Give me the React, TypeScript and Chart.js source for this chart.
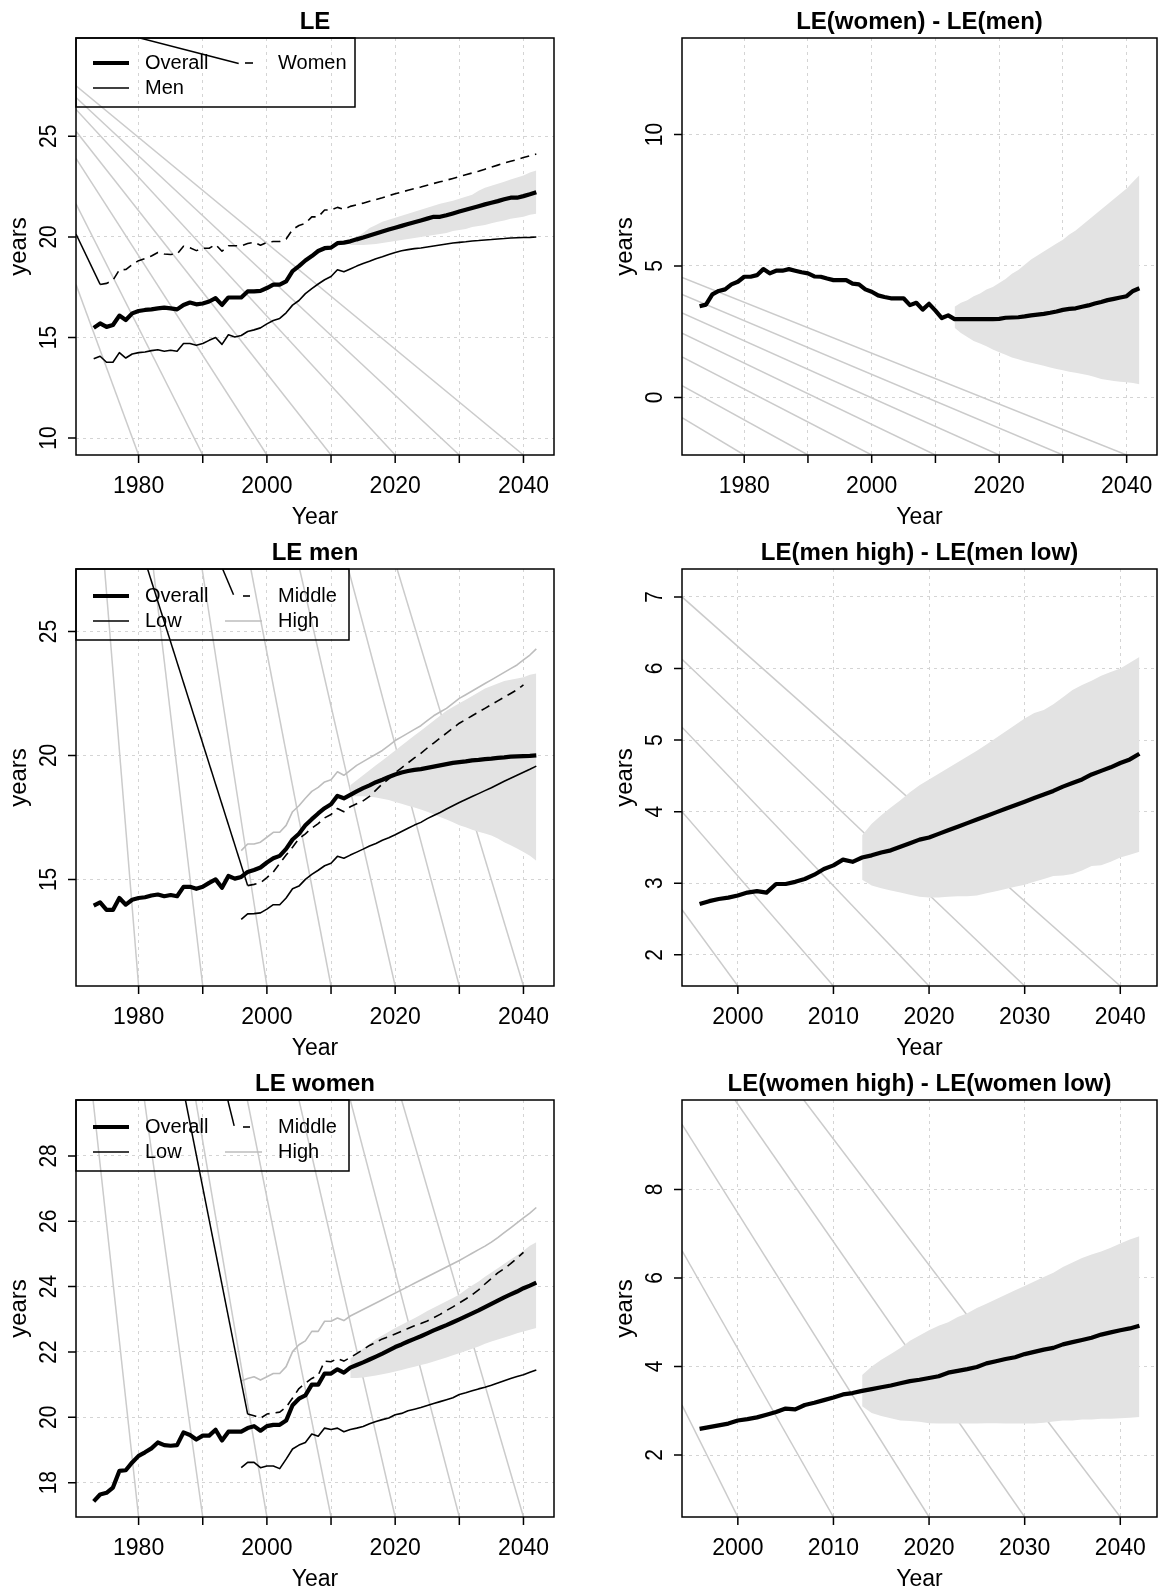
import React, { useEffect, useRef } from 'react';
import { Chart, registerables } from 'chart.js';

Chart.register(...registerables);

const FONT = '"Liberation Sans", Arial, Helvetica, sans-serif';
const PANEL_W = 581;
const PANEL_H = 531;

// ---------- Data ----------
const HIST_START = 1973;
const SUB_START = 1996;
const MID_START = 1997;
const FC_START = 2013;

const LE_OVERALL = [
  15.48, 15.7, 15.53, 15.62, 16.09, 15.87, 16.2, 16.32, 16.37, 16.4,
  16.45, 16.49, 16.45, 16.4, 16.62, 16.74, 16.65, 16.69, 16.79, 16.96,
  16.62, 16.99, 16.99, 16.99, 17.29, 17.29, 17.32, 17.46, 17.63, 17.63,
  17.79, 18.3, 18.55, 18.83, 19.05, 19.3, 19.44, 19.47, 19.69, 19.72,
  19.78, 19.88, 19.97, 20.07, 20.17, 20.27, 20.37, 20.46, 20.55, 20.64,
  20.73, 20.82, 20.91, 21.0, 21.0, 21.08, 21.17, 21.26, 21.35, 21.44,
  21.53, 21.62, 21.7, 21.78, 21.87, 21.95, 21.95, 22.03, 22.12, 22.22,
];
const LE_BAND_UP = [
  19.85, 20.0, 20.2, 20.45, 20.6, 20.75, 20.85, 20.95, 21.05, 21.15,
  21.25, 21.35, 21.45, 21.55, 21.65, 21.72, 21.8, 21.9, 22.0, 22.1,
  22.3, 22.45, 22.55, 22.65, 22.75, 22.85, 22.95, 23.05, 23.2, 23.3,
];
const LE_BAND_LO = [
  19.6, 19.6, 19.6, 19.62, 19.65, 19.7, 19.75, 19.8, 19.85, 19.9,
  19.95, 20.0, 20.05, 20.1, 20.15, 20.2, 20.3, 20.35, 20.4, 20.5,
  20.55, 20.6, 20.68, 20.75, 20.82, 20.9, 20.95, 21.0, 21.1, 21.15,
];

const MEN_OVERALL = [
  13.94, 14.07, 13.77, 13.77, 14.25, 13.98, 14.18, 14.25, 14.28, 14.35,
  14.39, 14.32, 14.37, 14.32, 14.7, 14.7, 14.62, 14.7, 14.86, 15.0,
  14.66, 15.14, 15.03, 15.1, 15.3, 15.38, 15.48, 15.68, 15.85, 15.95,
  16.23, 16.61, 16.84, 17.18, 17.43, 17.66, 17.87, 18.03, 18.37, 18.27,
  18.41, 18.55, 18.68, 18.79, 18.92, 19.02, 19.13, 19.23, 19.31, 19.37,
  19.42, 19.45, 19.5, 19.55, 19.6, 19.65, 19.7, 19.73, 19.76, 19.8,
  19.82, 19.85, 19.87, 19.9, 19.92, 19.95, 19.96, 19.97, 19.98, 20.0,
];
const MEN_LOW = [
  13.39, 13.61, 13.62, 13.65, 13.8, 13.98, 13.98, 14.25, 14.62, 14.73,
  15.0, 15.2, 15.37, 15.55, 15.65, 15.93, 15.85,
  15.98, 16.1, 16.22, 16.35, 16.45, 16.58, 16.68, 16.8, 16.93, 17.06,
  17.19, 17.3, 17.45, 17.58, 17.7, 17.84, 17.97, 18.1, 18.22, 18.34,
  18.46, 18.58, 18.7, 18.83, 18.96, 19.08, 19.2, 19.32, 19.44, 19.57,
];
const MEN_MIDDLE = [
  14.75, 14.8, 14.86, 15.07, 15.3, 15.65, 15.98, 16.3, 16.64, 16.84,
  17.07, 17.25, 17.48, 17.62, 17.86, 17.73,
  17.93, 18.05, 18.17, 18.35, 18.6, 18.85, 19.05, 19.3, 19.5, 19.7,
  19.9, 20.08, 20.3, 20.5, 20.7, 20.9, 21.1, 21.3, 21.45, 21.6,
  21.75, 21.9, 22.05, 22.2, 22.35, 22.5, 22.65, 22.85,
];
const MEN_HIGH = [
  16.16, 16.43, 16.43, 16.5, 16.7, 16.9, 16.9, 17.18, 17.73, 17.97,
  18.27, 18.55, 18.71, 18.93, 19.02, 19.34, 19.2,
  19.4, 19.6, 19.75, 19.9, 20.05, 20.2, 20.4, 20.6, 20.75, 20.9,
  21.05, 21.2, 21.4, 21.6, 21.75, 21.9, 22.1, 22.3, 22.45, 22.6,
  22.75, 22.9, 23.05, 23.2, 23.35, 23.5, 23.65, 23.85, 24.05, 24.3,
];
const MEN_BAND_UP = [
  18.8, 19.0, 19.2, 19.4, 19.6, 19.8, 20.0, 20.2, 20.4, 20.6,
  20.8, 21.0, 21.2, 21.4, 21.6, 21.8, 21.95, 22.1, 22.25, 22.4,
  22.55, 22.7, 22.8, 22.9, 23.0, 23.05, 23.1, 23.15, 23.25, 23.3,
];
const MEN_BAND_LO = [
  18.35, 18.35, 18.35, 18.33, 18.3, 18.25, 18.2, 18.12, 18.05, 17.97,
  17.9, 17.82, 17.73, 17.63, 17.52, 17.42, 17.3, 17.18, 17.1, 17.0,
  16.92, 16.85, 16.77, 16.65, 16.5, 16.38, 16.25, 16.1, 15.95, 15.75,
];

const WOMEN_OVERALL = [
  17.43, 17.64, 17.69, 17.85, 18.36, 18.38, 18.62, 18.82, 18.93, 19.05,
  19.23, 19.15, 19.13, 19.15, 19.54, 19.46, 19.32, 19.44, 19.44, 19.62,
  19.29, 19.56, 19.56, 19.56, 19.67, 19.73, 19.59, 19.73, 19.77, 19.77,
  19.9, 20.37, 20.57, 20.67, 21.0, 21.0, 21.34, 21.34, 21.47, 21.37,
  21.52, 21.6, 21.68, 21.77, 21.86, 21.95, 22.05, 22.15, 22.23, 22.32,
  22.4, 22.48, 22.57, 22.66, 22.74, 22.82, 22.91, 23.0, 23.09, 23.18,
  23.27, 23.37, 23.47, 23.57, 23.67, 23.76, 23.85, 23.95, 24.03, 24.12,
];
const WOMEN_LOW = [
  18.46, 18.62, 18.62, 18.46, 18.51, 18.51, 18.43, 18.72, 19.03, 19.15,
  19.23, 19.49, 19.42, 19.67, 19.63, 19.67, 19.56,
  19.63, 19.67, 19.72, 19.8, 19.87, 19.93, 19.98, 20.08, 20.12, 20.2,
  20.25, 20.3, 20.36, 20.42, 20.48, 20.54, 20.6, 20.7, 20.75, 20.81,
  20.87, 20.92, 20.98, 21.05, 21.12, 21.19, 21.25, 21.3, 21.38, 21.45,
];
const WOMEN_MIDDLE = [
  20.1, 20.05, 19.97, 20.1, 20.13, 20.16, 20.31, 20.59, 20.88, 21.04,
  21.19, 21.29, 21.72, 21.7, 21.8, 21.72,
  21.83, 21.95, 22.07, 22.2, 22.3, 22.4, 22.47, 22.55, 22.63, 22.72,
  22.8, 22.87, 22.95, 23.05, 23.15, 23.27, 23.38, 23.5, 23.62, 23.75,
  23.9, 24.08, 24.25, 24.42, 24.55, 24.7, 24.87, 25.05,
];
const WOMEN_HIGH = [
  21.11, 21.19, 21.24, 21.14, 21.24, 21.34, 21.34, 21.55, 22.01, 22.22,
  22.34, 22.63, 22.63, 22.94, 22.94, 23.04, 22.96,
  23.1, 23.2, 23.3, 23.4, 23.5, 23.6, 23.7, 23.8, 23.9, 24.0,
  24.1, 24.2, 24.3, 24.4, 24.5, 24.6, 24.7, 24.8, 24.91, 25.02,
  25.13, 25.24, 25.36, 25.5, 25.65, 25.8, 25.95, 26.1, 26.25, 26.42,
];
const WOMEN_BAND_UP = [
  21.8, 21.95, 22.1, 22.25, 22.4, 22.5, 22.62, 22.73, 22.83, 22.93,
  23.03, 23.14, 23.25, 23.35, 23.45, 23.55, 23.65, 23.76, 23.9, 24.03,
  24.16, 24.3, 24.43, 24.56, 24.7, 24.83, 24.96, 25.1, 25.25, 25.36,
];
const WOMEN_BAND_LO = [
  21.2, 21.2, 21.22, 21.25, 21.28, 21.32, 21.36, 21.4, 21.45, 21.5,
  21.55, 21.6, 21.65, 21.71, 21.77, 21.83, 21.9, 21.96, 22.03, 22.1,
  22.17, 22.25, 22.32, 22.38, 22.44, 22.5, 22.57, 22.63, 22.68, 22.73,
];

const SEX_GAP = [
  3.47, 3.53, 3.92, 4.05, 4.11, 4.3, 4.4, 4.59, 4.59, 4.65,
  4.88, 4.72, 4.82, 4.82, 4.88, 4.82, 4.76, 4.72, 4.6, 4.59,
  4.52, 4.46, 4.46, 4.46, 4.33, 4.3, 4.11, 4.02, 3.88, 3.82,
  3.77, 3.77, 3.77, 3.51, 3.6, 3.34, 3.56, 3.3, 3.02, 3.12,
  2.98, 2.98, 2.98, 2.98, 2.98, 2.98, 2.98, 2.99, 3.03, 3.04,
  3.05, 3.08, 3.12, 3.15, 3.18, 3.22, 3.27, 3.33, 3.37, 3.39,
  3.45, 3.5, 3.57, 3.63, 3.7, 3.75, 3.8, 3.85, 4.05, 4.15,
];
const SEX_GAP_UP = [
  3.45, 3.6, 3.7, 3.85, 3.95, 4.1, 4.2, 4.35, 4.5, 4.7,
  4.85, 5.05, 5.25, 5.4, 5.55, 5.7, 5.85, 6.0, 6.2, 6.35,
  6.55, 6.75, 6.95, 7.15, 7.35, 7.55, 7.75, 7.95, 8.2, 8.45,
];
const SEX_GAP_LO = [
  2.65, 2.45, 2.3, 2.15, 2.05, 1.95, 1.82, 1.72, 1.62, 1.52,
  1.45, 1.38, 1.32, 1.26, 1.2, 1.14, 1.08, 1.03, 0.98, 0.94,
  0.89, 0.84, 0.78, 0.7, 0.66, 0.62, 0.6, 0.58, 0.55, 0.5,
];

const MEN_GAP = [
  2.71, 2.75, 2.78, 2.8, 2.83, 2.87, 2.89, 2.87, 2.99, 2.99,
  3.02, 3.06, 3.12, 3.2, 3.25, 3.33, 3.3,
  3.36, 3.39, 3.43, 3.46, 3.51, 3.56, 3.61, 3.64, 3.69, 3.74,
  3.79, 3.84, 3.89, 3.94, 3.99, 4.04, 4.09, 4.14, 4.19, 4.24,
  4.29, 4.35, 4.4, 4.45, 4.52, 4.57, 4.62, 4.68, 4.73, 4.81,
];
const MEN_GAP_UP = [
  3.67, 3.83, 3.95, 4.06, 4.16, 4.27, 4.37, 4.45, 4.53, 4.61,
  4.69, 4.77, 4.85, 4.94, 5.03, 5.12, 5.21, 5.3, 5.38, 5.42,
  5.5, 5.6, 5.7, 5.77, 5.83, 5.9, 5.95, 6.0, 6.08, 6.16,
];
const MEN_GAP_LO = [
  3.05, 2.97, 2.93, 2.9, 2.87, 2.84, 2.81, 2.8, 2.8, 2.81,
  2.82, 2.82, 2.83, 2.86, 2.89, 2.92, 2.95, 2.98, 3.02, 3.06,
  3.1, 3.11, 3.13, 3.18, 3.24, 3.25, 3.3, 3.36, 3.4, 3.44,
];

const WOMEN_GAP = [
  2.59, 2.63, 2.67, 2.71, 2.78, 2.81, 2.85, 2.91, 2.97, 3.05,
  3.03, 3.13, 3.18, 3.24, 3.3, 3.37, 3.4,
  3.45, 3.49, 3.53, 3.57, 3.62, 3.67, 3.7, 3.74, 3.78, 3.86,
  3.9, 3.94, 3.99, 4.07, 4.12, 4.17, 4.21, 4.28, 4.33, 4.38,
  4.42, 4.5, 4.55, 4.6, 4.65, 4.72, 4.77, 4.82, 4.86, 4.92,
];
const WOMEN_GAP_UP = [
  3.81, 4.0, 4.15, 4.28, 4.42, 4.58, 4.7, 4.82, 4.92, 5.0,
  5.12, 5.2, 5.32, 5.42, 5.52, 5.62, 5.72, 5.82, 5.92, 6.02,
  6.12, 6.25, 6.35, 6.45, 6.53, 6.6, 6.68, 6.78, 6.87, 6.94,
];
const WOMEN_GAP_LO = [
  3.1, 2.95, 2.88, 2.83, 2.78, 2.77, 2.75, 2.72, 2.71, 2.71,
  2.71, 2.71, 2.71, 2.72, 2.72, 2.71, 2.71, 2.71, 2.71, 2.73,
  2.76, 2.78, 2.78, 2.8, 2.8, 2.82, 2.82, 2.83, 2.84, 2.86,
];

// Axis ticks
const X_TICKS_LONG = [1980, 1990, 2000, 2010, 2020, 2030, 2040];
const X_LABELS_LONG = [1980, 2000, 2020, 2040];
const X_TICKS_SHORT = [2000, 2010, 2020, 2030, 2040];
const Y_TICKS_LE = [10, 15, 20, 25];
const Y_TICKS_SEXGAP = [0, 5, 10];
const Y_TICKS_MEN = [15, 20, 25];
const Y_TICKS_MENGAP = [2, 3, 4, 5, 6, 7];
const Y_TICKS_WOMEN = [18, 20, 22, 24, 26, 28];
const Y_TICKS_WOMENGAP = [2, 4, 6, 8];

// Grey guide lines (start point, end at bottom tick)
const LE_GUIDE_FROM_Y = [17.63, 21.65, 23.91, 25.25, 26.34, 26.93, 27.51];
const SEXGAP_GUIDE_FROM_Y = [-0.77, 0.45, 1.54, 2.44, 3.21, 3.92, 4.56];
const MEN_GUIDE_FROM_X = [1974.7, 1982.3, 1989.9, 1997.5, 2005.1, 2012.7, 2020.3];
const MENGAP_GUIDE_FROM_Y = [2.63, 4.0, 5.18, 6.13, 7.0];
const WOMEN_GUIDE_FROM_X = [1972.9, 1980.9, 1988.9, 1996.95, 2005.0, 2013.0, 2021.0];
const WOMENGAP_GUIDE_FROM = [
  [1994.16, 3.13], [1994.16, 6.62], [1994.16, 9.47], [1999.7, 10.02], [2006.9, 10.02],
];

type Seg = { x0: number; y0: number; x1: number; y1: number };
type Series = { start: number; values: number[]; color: string; width: number; dash?: number[]; order: number };
type LegendItem = { label: string; row: number; x0: number; x1: number; tx: number; color: string; width: number };
type Legend = { right: number; bottom: number; rows: number[]; items: LegendItem[] };
type PanelCfg = {
  title: string;
  row: number;
  col: number;
  box: [number, number, number, number];
  xMin: number; xMax: number; yMin: number; yMax: number;
  xTicks: number[]; xLabels: number[]; yTicks: number[];
  band?: { lower: number[]; upper: number[] };
  series: Series[];
  guides: Seg[];
  artifacts: Seg[];
  legend?: Legend;
};

const LEFT_BOX: [number, number, number, number] = [76, 38, 554, 455];
const RIGHT_BOX: [number, number, number, number] = [101, 38, 576, 455];
const X_LONG = [1970.24, 2044.76];
const X_SHORT = [1994.16, 2043.84];

const BLACK = '#000000';
const GREY_HIGH = '#bdbdbd';

function toSegTick(from: [number, number][], ticks: number[], yMin: number): Seg[] {
  return from.map((f, i) => ({ x0: f[0], y0: f[1], x1: ticks[i], y1: yMin }));
}

const LEGEND_SUB: LegendItem[] = [
  { label: 'Overall', row: 0, x0: 93, x1: 129, tx: 145, color: BLACK, width: 4.2 },
  { label: 'Low', row: 1, x0: 93, x1: 129, tx: 145, color: BLACK, width: 1.6 },
  { label: 'Middle', row: 0, x0: 243, x1: 250, tx: 278, color: BLACK, width: 1.6 },
  { label: 'High', row: 1, x0: 225, x1: 262, tx: 278, color: GREY_HIGH, width: 1.6 },
];

const PANELS: PanelCfg[] = [
  {
    title: 'LE', row: 0, col: 0, box: LEFT_BOX,
    xMin: X_LONG[0], xMax: X_LONG[1], yMin: 9.16, yMax: 29.89,
    xTicks: X_TICKS_LONG, xLabels: X_LABELS_LONG, yTicks: Y_TICKS_LE,
    band: { lower: LE_BAND_LO, upper: LE_BAND_UP },
    series: [
      { start: HIST_START + 1, values: WOMEN_OVERALL.slice(1), color: BLACK, width: 1.6, dash: [9, 6], order: 12 },
      { start: HIST_START, values: MEN_OVERALL, color: BLACK, width: 1.6, order: 11 },
      { start: HIST_START, values: LE_OVERALL, color: BLACK, width: 4.2, order: 10 },
    ],
    guides: toSegTick(LE_GUIDE_FROM_Y.map((y) => [X_LONG[0], y] as [number, number]), X_TICKS_LONG, 9.16),
    artifacts: [
      { x0: X_LONG[0], y0: 20.14, x1: 1974, y1: 17.64 },
      { x0: 1980.2, y0: 29.89, x1: 1995.6, y1: 28.62 },
    ],
    legend: {
      right: 355, bottom: 107, rows: [63, 88],
      items: [
        { label: 'Overall', row: 0, x0: 93, x1: 129, tx: 145, color: BLACK, width: 4.2 },
        { label: 'Men', row: 1, x0: 93, x1: 129, tx: 145, color: BLACK, width: 1.6 },
        { label: 'Women', row: 0, x0: 245, x1: 253, tx: 278, color: BLACK, width: 1.6 },
      ],
    },
  },
  {
    title: 'LE(women) - LE(men)', row: 0, col: 1, box: RIGHT_BOX,
    xMin: X_LONG[0], xMax: X_LONG[1], yMin: -2.19, yMax: 13.67,
    xTicks: X_TICKS_LONG, xLabels: X_LABELS_LONG, yTicks: Y_TICKS_SEXGAP,
    band: { lower: SEX_GAP_LO, upper: SEX_GAP_UP },
    series: [{ start: HIST_START, values: SEX_GAP, color: BLACK, width: 4.2, order: 10 }],
    guides: toSegTick(SEXGAP_GUIDE_FROM_Y.map((y) => [X_LONG[0], y] as [number, number]), X_TICKS_LONG, -2.19),
    artifacts: [],
  },
  {
    title: 'LE men', row: 1, col: 0, box: LEFT_BOX,
    xMin: X_LONG[0], xMax: X_LONG[1], yMin: 10.7, yMax: 27.52,
    xTicks: X_TICKS_LONG, xLabels: X_LABELS_LONG, yTicks: Y_TICKS_MEN,
    band: { lower: MEN_BAND_LO, upper: MEN_BAND_UP },
    series: [
      { start: SUB_START, values: MEN_HIGH, color: GREY_HIGH, width: 1.6, order: 13 },
      { start: MID_START, values: MEN_MIDDLE, color: BLACK, width: 1.6, dash: [9, 6], order: 12 },
      { start: SUB_START, values: MEN_LOW, color: BLACK, width: 1.6, order: 11 },
      { start: HIST_START, values: MEN_OVERALL, color: BLACK, width: 4.2, order: 10 },
    ],
    guides: toSegTick(MEN_GUIDE_FROM_X.map((x) => [x, 27.52] as [number, number]), X_TICKS_LONG, 10.7),
    artifacts: [
      { x0: 1981.4, y0: 27.52, x1: 1997, y1: 14.75 },
      { x0: 1993.1, y0: 27.52, x1: 1994.8, y1: 26.48 },
    ],
    legend: { right: 349, bottom: 109, rows: [65, 90], items: LEGEND_SUB },
  },
  {
    title: 'LE(men high) - LE(men low)', row: 1, col: 1, box: RIGHT_BOX,
    xMin: X_SHORT[0], xMax: X_SHORT[1], yMin: 1.565, yMax: 7.39,
    xTicks: X_TICKS_SHORT, xLabels: X_TICKS_SHORT, yTicks: Y_TICKS_MENGAP,
    band: { lower: MEN_GAP_LO, upper: MEN_GAP_UP },
    series: [{ start: SUB_START, values: MEN_GAP, color: BLACK, width: 4.2, order: 10 }],
    guides: toSegTick(MENGAP_GUIDE_FROM_Y.map((y) => [X_SHORT[0], y] as [number, number]), X_TICKS_SHORT, 1.565),
    artifacts: [],
  },
  {
    title: 'LE women', row: 2, col: 0, box: LEFT_BOX,
    xMin: X_LONG[0], xMax: X_LONG[1], yMin: 16.95, yMax: 29.71,
    xTicks: X_TICKS_LONG, xLabels: X_LABELS_LONG, yTicks: Y_TICKS_WOMEN,
    band: { lower: WOMEN_BAND_LO, upper: WOMEN_BAND_UP },
    series: [
      { start: SUB_START, values: WOMEN_HIGH, color: GREY_HIGH, width: 1.6, order: 13 },
      { start: MID_START, values: WOMEN_MIDDLE, color: BLACK, width: 1.6, dash: [9, 6], order: 12 },
      { start: SUB_START, values: WOMEN_LOW, color: BLACK, width: 1.6, order: 11 },
      { start: HIST_START, values: WOMEN_OVERALL, color: BLACK, width: 4.2, order: 10 },
    ],
    guides: toSegTick(WOMEN_GUIDE_FROM_X.map((x) => [x, 29.71] as [number, number]), X_TICKS_LONG, 16.95),
    artifacts: [
      { x0: 1987.3, y0: 29.71, x1: 1997, y1: 20.1 },
      { x0: 1993.9, y0: 29.71, x1: 1994.9, y1: 28.92 },
    ],
    legend: { right: 349, bottom: 109, rows: [65, 90], items: LEGEND_SUB },
  },
  {
    title: 'LE(women high) - LE(women low)', row: 2, col: 1, box: RIGHT_BOX,
    xMin: X_SHORT[0], xMax: X_SHORT[1], yMin: 0.6, yMax: 10.02,
    xTicks: X_TICKS_SHORT, xLabels: X_TICKS_SHORT, yTicks: Y_TICKS_WOMENGAP,
    band: { lower: WOMEN_GAP_LO, upper: WOMEN_GAP_UP },
    series: [{ start: SUB_START, values: WOMEN_GAP, color: BLACK, width: 4.2, order: 10 }],
    guides: toSegTick(WOMENGAP_GUIDE_FROM as [number, number][], X_TICKS_SHORT, 0.6),
    artifacts: [],
  },
];

function pts(start: number, values: number[]) {
  return values.map((v, i) => ({ x: start + i, y: v }));
}

const framePlugin = {
  id: 'rframe',
  afterDraw(chart: any, _args: any, opts: any) {
    const cfg: PanelCfg = opts.cfg;
    if (!cfg) return;
    const { ctx, chartArea: a } = chart;
    const x = chart.scales.x;
    const y = chart.scales.y;
    ctx.save();
    ctx.setLineDash([]);
    ctx.strokeStyle = '#000';
    ctx.lineWidth = 1.5;
    ctx.strokeRect(a.left, a.top, a.right - a.left, a.bottom - a.top);
    ctx.beginPath();
    cfg.xTicks.forEach((v) => {
      const px = x.getPixelForValue(v);
      ctx.moveTo(px, a.bottom);
      ctx.lineTo(px, a.bottom + 8);
    });
    cfg.yTicks.forEach((v) => {
      const py = y.getPixelForValue(v);
      ctx.moveTo(a.left, py);
      ctx.lineTo(a.left - 8, py);
    });
    ctx.stroke();

    ctx.fillStyle = '#000';
    ctx.textAlign = 'center';
    ctx.textBaseline = 'middle';
    ctx.font = `23px ${FONT}`;
    cfg.xLabels.forEach((v) => ctx.fillText(String(v), x.getPixelForValue(v), a.bottom + 32));
    ctx.fillText('Year', (a.left + a.right) / 2, a.bottom + 63);
    ctx.font = `21px ${FONT}`;
    cfg.yTicks.forEach((v) => {
      ctx.save();
      ctx.translate(a.left - 26, y.getPixelForValue(v));
      ctx.rotate(-Math.PI / 2);
      ctx.scale(1, 1.1);
      ctx.fillText(String(v), 0, 0);
      ctx.restore();
    });
    ctx.font = `24px ${FONT}`;
    ctx.save();
    ctx.translate(a.left - 57, (a.top + a.bottom) / 2);
    ctx.rotate(-Math.PI / 2);
    ctx.fillText('years', 0, 0);
    ctx.restore();

    ctx.font = `bold 24px ${FONT}`;
    ctx.fillText(cfg.title, (a.left + a.right) / 2, 22);

    if (cfg.legend) {
      const L = cfg.legend;
      ctx.strokeStyle = '#000';
      ctx.lineWidth = 1.5;
      ctx.strokeRect(a.left, a.top, L.right - a.left, L.bottom - a.top);
      L.items.forEach((it) => {
        const yy = L.rows[it.row];
        ctx.beginPath();
        ctx.strokeStyle = it.color;
        ctx.lineWidth = it.width;
        ctx.moveTo(it.x0, yy);
        ctx.lineTo(it.x1, yy);
        ctx.stroke();
        ctx.fillStyle = '#000';
        ctx.font = `20px ${FONT}`;
        ctx.textAlign = 'left';
        ctx.fillText(it.label, it.tx, yy);
      });
    }
    ctx.restore();
  },
};

function buildDatasets(cfg: PanelCfg) {
  const ds: any[] = [];
  cfg.guides.forEach((g) => {
    ds.push({
      data: [{ x: g.x0, y: g.y0 }, { x: g.x1, y: g.y1 }],
      borderColor: '#cbcbcb', borderWidth: 1.5, pointRadius: 0, fill: false, order: 50, clip: 0,
    });
  });
  if (cfg.band) {
    ds.push({
      data: pts(FC_START, cfg.band.upper), borderColor: 'rgba(0,0,0,0)', borderWidth: 0,
      pointRadius: 0, fill: '+1', backgroundColor: '#e3e3e3', order: 40,
    });
    ds.push({
      data: pts(FC_START, cfg.band.lower), borderColor: 'rgba(0,0,0,0)', borderWidth: 0,
      pointRadius: 0, fill: false, order: 40,
    });
  }
  cfg.series.forEach((s) => {
    ds.push({
      data: pts(s.start, s.values), borderColor: s.color, borderWidth: s.width,
      borderDash: s.dash || [], pointRadius: 0, fill: false, order: s.order,
      borderJoinStyle: 'round', borderCapStyle: 'butt',
    });
  });
  cfg.artifacts.forEach((g) => {
    ds.push({
      data: [{ x: g.x0, y: g.y0 }, { x: g.x1, y: g.y1 }],
      borderColor: '#000', borderWidth: 1.5, pointRadius: 0, fill: false, order: 1, clip: 0,
    });
  });
  return ds;
}

function Panel({ cfg }: { cfg: PanelCfg }) {
  const ref = useRef<HTMLCanvasElement | null>(null);
  useEffect(() => {
    if (!ref.current) return;
    const [l, t, r, b] = cfg.box;
    const chart = new Chart(ref.current, {
      type: 'line',
      data: { datasets: buildDatasets(cfg) },
      plugins: [framePlugin],
      options: {
        animation: false,
        responsive: false,
        devicePixelRatio: 1,
        events: [],
        layout: { padding: { left: l, top: t, right: PANEL_W - r, bottom: PANEL_H - b } },
        plugins: {
          legend: { display: false },
          tooltip: { enabled: false },
          title: { display: false },
          rframe: { cfg },
        } as any,
        scales: {
          x: {
            type: 'linear', min: cfg.xMin, max: cfg.xMax,
            ticks: { display: false },
            grid: { color: '#d4d4d4', lineWidth: 1, drawTicks: false },
            border: { display: false, dash: [3, 4] },
            afterBuildTicks: (s: any) => { s.ticks = cfg.xTicks.map((v) => ({ value: v })); },
            afterFit: (s: any) => { s.height = 0; },
          },
          y: {
            type: 'linear', min: cfg.yMin, max: cfg.yMax,
            ticks: { display: false },
            grid: { color: '#d4d4d4', lineWidth: 1, drawTicks: false },
            border: { display: false, dash: [3, 4] },
            afterBuildTicks: (s: any) => { s.ticks = cfg.yTicks.map((v) => ({ value: v })); },
            afterFit: (s: any) => { s.width = 0; },
          },
        } as any,
      },
    });
    return () => chart.destroy();
  }, [cfg]);
  return (
    <canvas
      ref={ref}
      width={PANEL_W}
      height={PANEL_H}
      style={{ position: 'absolute', left: cfg.col * PANEL_W, top: cfg.row * PANEL_H, width: PANEL_W, height: PANEL_H, display: 'block' }}
    />
  );
}

export default function App() {
  return (
    <div style={{ position: 'absolute', left: 0, top: 0, width: 1162, height: 1593, background: '#ffffff', overflow: 'hidden' }}>
      {PANELS.map((p) => (
        <Panel key={p.title} cfg={p} />
      ))}
    </div>
  );
}
